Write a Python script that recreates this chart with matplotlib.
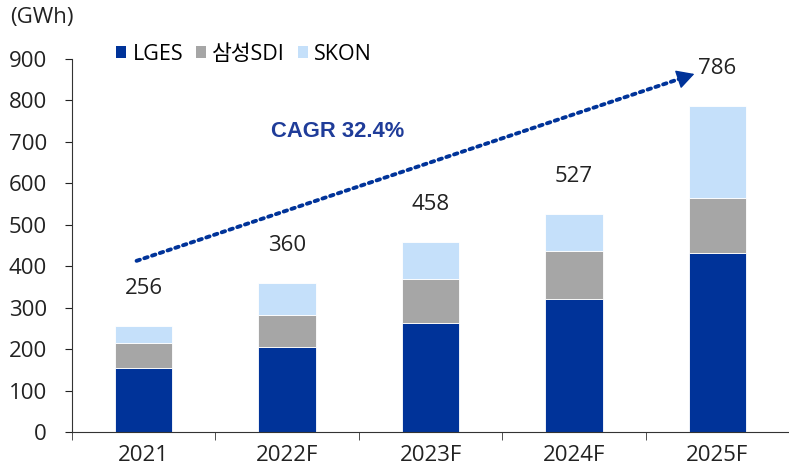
import matplotlib
matplotlib.use("Agg")
import matplotlib.pyplot as plt
from matplotlib.patches import Patch
import numpy as np

plt.rcParams['font.family'] = ['Open Sans', 'Noto Sans CJK KR', 'DejaVu Sans']

years = ['2021', '2022F', '2023F', '2024F', '2025F']
lges = [155, 205, 262, 321, 432]
sdi = [60, 77, 107, 116, 132]
skon = [41, 78, 89, 90, 222]
totals = [256, 360, 458, 527, 786]
series_names = ['LGES', '삼성SDI', 'SKON']
colors = ['#003399', '#A6A6A6', '#C5E0FA']

fig = plt.figure(figsize=(7.89, 4.71), dpi=100)
ax = fig.add_axes([0.0913, 0.0828, 0.9087, 0.7919])

x = np.arange(len(years))
w = 0.4
b1 = np.array(lges)
b2 = b1 + np.array(sdi)
ax.bar(x, lges, w, color=colors[0], edgecolor='white', linewidth=0.6)
ax.bar(x, sdi, w, bottom=b1, color=colors[1], edgecolor='white', linewidth=0.6)
ax.bar(x, skon, w, bottom=b2, color=colors[2], edgecolor='white', linewidth=0.6)

for xi, t in zip(x, totals):
    ax.text(xi, t + 90, str(t), ha='center', va='center', fontsize=16, color='#222222')

ax.set_xlim(-0.5, 4.47)
ax.set_ylim(0, 900)
ax.set_yticks(range(0, 901, 100))
ax.tick_params(axis='y', labelsize=16, colors='#222222', length=5, direction='out', pad=13)
ax.set_xticks(x)
ax.set_xticklabels(years, fontsize=16, color='#222222')
ax.set_xticks(np.arange(-0.5, 4.6, 1), minor=True)
ax.tick_params(axis='x', which='major', length=0, pad=9)
ax.tick_params(axis='x', which='minor', length=6, direction='out', color='#333333')
for s in ['top', 'right']:
    ax.spines[s].set_visible(False)
ax.spines['left'].set_color('#333333')
ax.spines['bottom'].set_color('#333333')

# CAGR arrow: dotted shaft + solid head
start = np.array([-0.05, 413.0])
end = np.array([3.84, 864.0])
near = start + 0.975 * (end - start)
ax.annotate('', xy=near, xytext=start,
            arrowprops=dict(arrowstyle='-', color='#003399', lw=2.8,
                            linestyle=(0, (0.9, 1.2)), shrinkA=0, shrinkB=0))
head_from = start + 0.99 * (end - start)
ax.annotate('', xy=end, xytext=head_from,
            arrowprops=dict(arrowstyle='-|>,head_length=0.55,head_width=0.3',
                            color='#003399', lw=1, mutation_scale=20,
                            shrinkA=0, shrinkB=0))
ax.text(1.35, 726, 'CAGR 32.4%', ha='center', va='center', fontsize=15.8,
        fontweight='bold', fontstyle='normal', family=['Liberation Sans', 'DejaVu Sans'],
        color='#1F3C99')

fig.text(0.013, 0.962, '(GWh)', ha='left', va='center', fontsize=16, color='#222222')

handles = [Patch(facecolor=c, edgecolor='none') for c in colors]
fig.legend(handles, series_names, loc='center left', bbox_to_anchor=(0.123, 0.885),
           ncol=3, frameon=False, fontsize=15.5, handlelength=0.45, handleheight=0.5,
           handletextpad=0.3, columnspacing=0.6)

fig.savefig('out.png', dpi=100)
